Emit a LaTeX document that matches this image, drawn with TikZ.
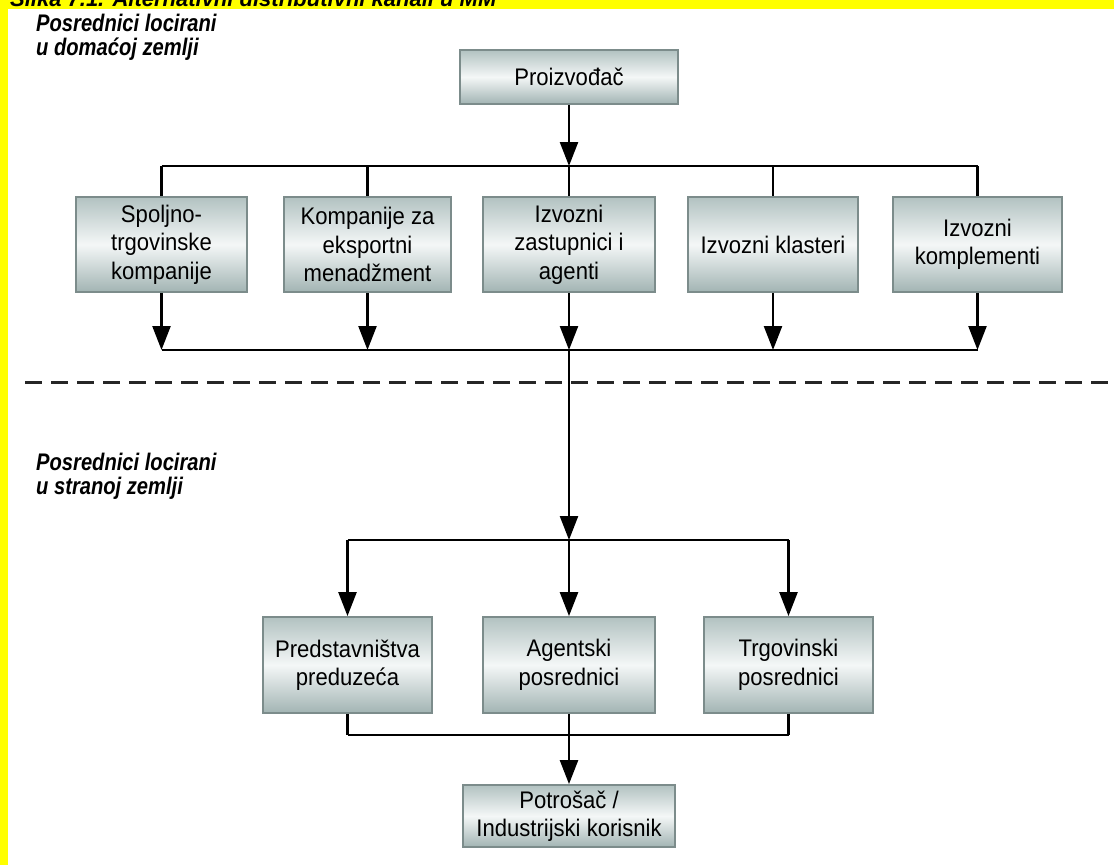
\documentclass[tikz,border=0pt]{standalone}
\usepackage{fontspec}
\setmainfont{Liberation Sans}
\newfontfamily\headfont[FakeStretch=0.84]{Liberation Sans}
\newfontfamily\boxfont[FakeStretch=0.92]{Liberation Sans}
\usetikzlibrary{arrows.meta}
\definecolor{banneryellow}{HTML}{FFFF00}
\definecolor{boxedge}{HTML}{7C8C8B}
\definecolor{boxtop}{HTML}{B2C2C1}
\definecolor{boxmid}{HTML}{F4F7F7}
\definecolor{boxbot}{HTML}{A2B4B3}
\tikzset{
  stage/.style={draw=boxedge, line width=1.8pt, top color=boxtop, bottom color=boxbot,
    middle color=boxmid, inner sep=0pt, align=center,
    font=\boxfont\fontsize{24}{28.5}\selectfont},
  link/.style={line width=2.4pt, black},
  flow/.style={link, -{Triangle[length=24pt,width=18pt]}},
  heading/.style={inner sep=0pt, anchor=north west, align=left,
    font=\headfont\bfseries\itshape\fontsize{24}{24}\selectfont},
  border/.style={dash pattern=on 17pt off 9pt, line width=3pt, black!85}
}
\begin{document}
\begin{tikzpicture}[x=1pt,y=-1pt]
  % page frame
  \useasboundingbox (0,0) rectangle (1114,865);
  \fill[white] (0,0) rectangle (1114,865);
  \fill[banneryellow] (0,0) rectangle (1114,9);
  \fill[banneryellow] (0,0) rectangle (8,865);
  \begin{scope}
    \clip (0,0) rectangle (1114,9);
    \node[inner sep=0pt, anchor=base west, font=\bfseries\itshape\fontsize{22}{22}\selectfont]
      (caption) at (10,6) {Slika 7.1. Alternativni distributivni kanali u MM};
  \end{scope}

  % section headings
  \node[heading] (home) at (36,14) {Posrednici locirani\\u domaćoj zemlji};
  \node[heading] (abroad) at (36,453) {Posrednici locirani\\u stranoj zemlji};

  % producer
  \node[stage, minimum width=218pt, minimum height=54pt] (prod) at (569,77) {Proizvođač};

  % domestic intermediaries
  \node[stage, minimum width=171pt, minimum height=95pt] (b1) at (161.5,244.5) {Spoljno-\\trgovinske\\kompanije};
  \node[stage, minimum width=167pt, minimum height=95pt] (b2) at (367.5,244.5) {Kompanije za\\eksportni\\menadžment};
  \node[stage, minimum width=172pt, minimum height=95pt] (b3) at (569,244.5) {Izvozni\\zastupnici i\\agenti};
  \node[stage, minimum width=170pt, minimum height=95pt] (b4) at (773,244.5) {Izvozni klasteri};
  \node[stage, minimum width=169pt, minimum height=95pt] (b5) at (977.5,244.5) {Izvozni\\komplementi};

  % foreign intermediaries
  \node[stage, minimum width=169pt, minimum height=96pt] (p1) at (347.5,665) {Predstavništva\\preduzeća};
  \node[stage, minimum width=172pt, minimum height=96pt] (p2) at (569,665) {Agentski\\posrednici};
  \node[stage, minimum width=169pt, minimum height=96pt] (p3) at (788.5,665) {Trgovinski\\posrednici};

  % final customer
  \node[stage, minimum width=212pt, minimum height=62pt] (cons) at (569,816) {Potrošač /\\Industrijski korisnik};

  % junction points of the bus lines
  \coordinate (j1) at (569,166);
  \coordinate (j2) at (569,350);
  \coordinate (j3) at (569,540);
  \coordinate (j4) at (569,735);
  \coordinate (dl) at (25,382);
  \coordinate (dr) at (1114,382);

  % producer to domestic intermediaries
  \draw[flow] (prod) -- (j1);
  \draw[link] (b1.north |- j1) -- (b5.north |- j1);
  \foreach \b in {b1,b2,b3,b4,b5}
    \draw[link] (\b.north |- j1) -- (\b.north);

  % domestic intermediaries to the collecting line
  \foreach \b in {b1,b2,b3,b4,b5}
    \draw[flow] (\b.south) -- (\b.south |- j2);
  \draw[link] (b1.south |- j2) -- (b5.south |- j2);

  % border between home and foreign country
  \draw[border] (dl) -- (dr);

  % into the foreign market
  \draw[flow] (j2) -- (j3);
  \draw[link] (p1.north |- j3) -- (p3.north |- j3);
  \foreach \p in {p1,p2,p3}
    \draw[flow] (\p.north |- j3) -- (\p.north);

  % to the final customer
  \foreach \p in {p1,p2,p3}
    \draw[link] (\p.south) -- (\p.south |- j4);
  \draw[link] (p1.south |- j4) -- (p3.south |- j4);
  \draw[flow] (j4) -- (cons.north);
\end{tikzpicture}
\end{document}
